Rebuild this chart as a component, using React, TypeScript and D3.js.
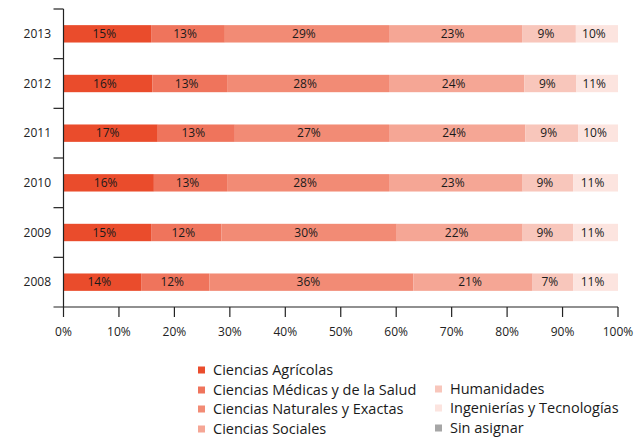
import * as d3 from "d3";
import { useRef, useEffect } from "react";

const years = ["2013", "2012", "2011", "2010", "2009", "2008"];

const fields = [
  "Ciencias Agrícolas",
  "Ciencias Médicas y de la Salud",
  "Ciencias Naturales y Exactas",
  "Ciencias Sociales",
  "Humanidades",
  "Ingenierías y Tecnologías",
  "Sin asignar",
];

const colors = ["#ea4c2c", "#ef745c", "#f28b75", "#f5a695", "#f8c6bb", "#fce4df", "#a6a6a6"];

// segment shares as drawn (per year, order of fields)
const shares = [
  [15.8, 13.3, 29.6, 24.0, 9.7, 7.6, 0],
  [16.0, 13.5, 29.2, 24.4, 9.4, 7.5, 0],
  [17.0, 13.9, 27.8, 24.6, 9.5, 7.2, 0],
  [16.3, 13.2, 29.2, 24.1, 9.1, 8.1, 0],
  [15.8, 12.7, 31.6, 22.7, 9.1, 8.1, 0],
  [14.0, 12.3, 36.8, 21.5, 7.3, 8.1, 0],
];

// printed labels
const labels = [
  ["15%", "13%", "29%", "23%", "9%", "10%"],
  ["16%", "13%", "28%", "24%", "9%", "11%"],
  ["17%", "13%", "27%", "24%", "9%", "10%"],
  ["16%", "13%", "28%", "23%", "9%", "11%"],
  ["15%", "12%", "30%", "22%", "9%", "11%"],
  ["14%", "12%", "36%", "21%", "7%", "11%"],
];

const ticks = [0, 10, 20, 30, 40, 50, 60, 70, 80, 90, 100];

export default function App() {
  const svgRef = useRef<SVGSVGElement>(null);
  const width = 638;
  const height = 437;
  const marginLeft = 63.5;
  const marginRight = 20;
  const marginTop = 9;
  const axisY = 307;
  const font = "'Open Sans', sans-serif";

  useEffect(() => {
    const svg = d3.select(svgRef.current);
    svg.selectAll("*").remove();

    const x = d3.scaleLinear().domain([0, 100]).range([marginLeft, width - marginRight]);
    const y = d3.scaleBand().domain(years).range([marginTop, axisY]).paddingInner(0.65).paddingOuter(0.325);

    // bars
    years.forEach((yr, i) => {
      const row = svg.append("g");
      let acc = 0;
      shares[i].forEach((v, j) => {
        if (v <= 0) return;
        const x0 = x(acc);
        const x1 = x(acc + v);
        row
          .append("rect")
          .attr("x", x0)
          .attr("y", y(yr)!)
          .attr("width", x1 - x0)
          .attr("height", y.bandwidth())
          .attr("fill", colors[j]);
        if (labels[i][j]) {
          row
            .append("text")
            .attr("x", (x0 + x1) / 2 - 3)
            .attr("y", y(yr)! + y.bandwidth() / 2)
            .attr("dy", "0.36em")
            .attr("text-anchor", "middle")
            .attr("font-family", font)
            .attr("font-size", 12)
            .attr("fill", "#1a1a1a")
            .text(labels[i][j]);
        }
        acc += v;
      });
    });

    // y axis
    const step = y.step();
    const gy = svg.append("g").attr("stroke", "#222").attr("stroke-width", 1.2);
    gy.append("line")
      .attr("x1", marginLeft)
      .attr("x2", marginLeft)
      .attr("y1", marginTop)
      .attr("y2", axisY);
    d3.range(years.length).forEach((k) => {
      gy.append("line")
        .attr("x1", marginLeft - 10)
        .attr("x2", marginLeft)
        .attr("y1", marginTop + k * step)
        .attr("y2", marginTop + k * step);
    });
    years.forEach((yr) => {
      svg
        .append("text")
        .attr("x", 51)
        .attr("y", y(yr)! + y.bandwidth() / 2)
        .attr("dy", "0.36em")
        .attr("text-anchor", "end")
        .attr("font-family", font)
        .attr("font-size", 12)
        .attr("fill", "#222")
        .text(yr);
    });

    // x axis
    const gx = svg.append("g").attr("stroke", "#222").attr("stroke-width", 1.2);
    gx.append("line")
      .attr("x1", marginLeft - 10)
      .attr("x2", x(100))
      .attr("y1", axisY)
      .attr("y2", axisY);
    ticks.forEach((t) => {
      gx.append("line").attr("x1", x(t)).attr("x2", x(t)).attr("y1", axisY).attr("y2", axisY + 10);
      svg
        .append("text")
        .attr("x", x(t))
        .attr("y", 332)
        .attr("dy", "0.36em")
        .attr("text-anchor", "middle")
        .attr("font-family", font)
        .attr("font-size", 12)
        .attr("fill", "#222")
        .text(t + "%");
    });

    // legend
    const legendPos = [
      [198, 370],
      [198, 390],
      [198, 409],
      [198, 429],
      [435, 389],
      [435, 408],
      [435, 428],
    ];
    fields.forEach((f, j) => {
      const [lx, ly] = legendPos[j];
      svg.append("rect").attr("x", lx).attr("y", ly - 3.5).attr("width", 7).attr("height", 7).attr("fill", colors[j]);
      svg
        .append("text")
        .attr("x", lx + 15)
        .attr("y", ly)
        .attr("dy", "0.36em")
        .attr("font-family", font)
        .attr("font-size", 14.5)
        .attr("fill", "#1a1a1a")
        .text(f);
    });
  }, []);

  return (
    <svg
      ref={svgRef}
      width={width}
      height={height}
      style={{ position: "absolute", left: 0, top: 0, background: "#fff" }}
    />
  );
}
